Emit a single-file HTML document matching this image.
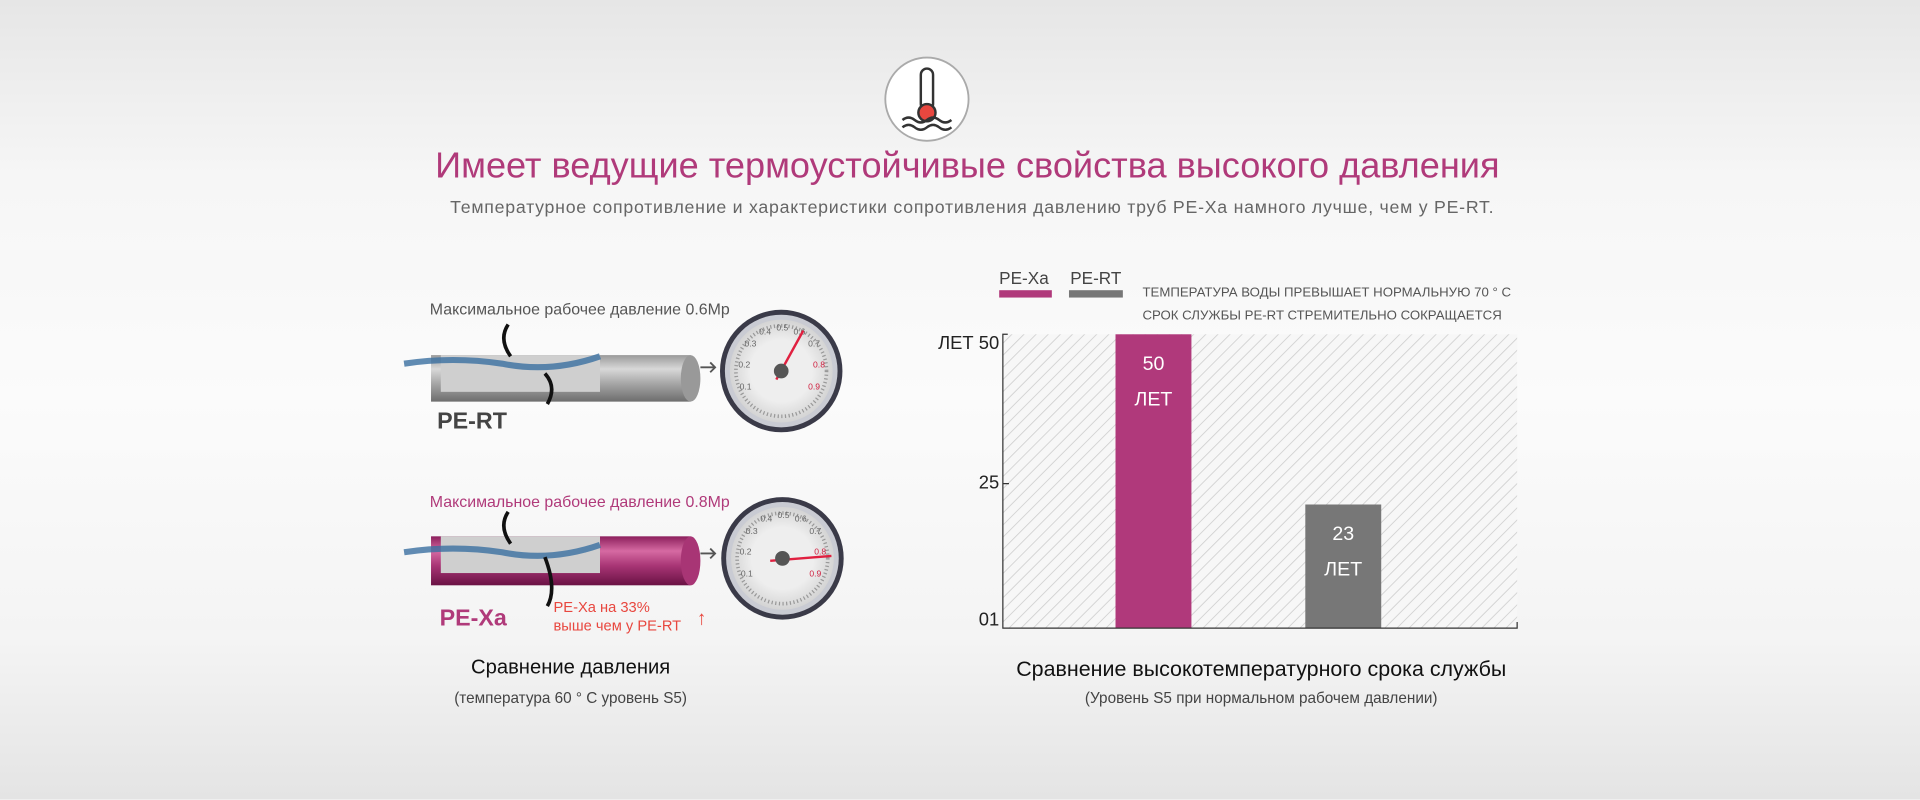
<!DOCTYPE html>
<html><head><meta charset="utf-8"><style>
html,body{margin:0;padding:0;width:1920px;height:800px;overflow:hidden}
#w{position:absolute;left:0;top:0;width:1568px;height:653px;transform:scale(1.22449);transform-origin:0 0;
background:linear-gradient(#e6e6e6 0%,#f6f6f6 22%,#fbfbfb 50%,#f4f4f4 80%,#e4e4e4 100%);
font-family:"Liberation Sans","Noto Sans CJK SC",sans-serif}
.t{position:absolute;white-space:nowrap}
</style></head><body><div id="w">
<svg width="1568" height="653" style="position:absolute;left:0;top:0">
<defs>
<pattern id="h" width="7" height="7" patternUnits="userSpaceOnUse" patternTransform="rotate(45)">
<rect width="7" height="7" fill="#f7f7f7"/><line x1="0" y1="0" x2="0" y2="7" stroke="#d0d0d0" stroke-width="1.4"/></pattern>
<linearGradient id="gp" x1="0" y1="0" x2="0" y2="1"><stop offset="0" stop-color="#9a9a9a"/><stop offset=".3" stop-color="#d8d8d8"/><stop offset=".6" stop-color="#a8a8a8"/><stop offset="1" stop-color="#6d6d6d"/></linearGradient>
<linearGradient id="mp" x1="0" y1="0" x2="0" y2="1"><stop offset="0" stop-color="#8c1f5c"/><stop offset=".3" stop-color="#d66aa2"/><stop offset=".6" stop-color="#a83575"/><stop offset="1" stop-color="#6a1244"/></linearGradient>
<radialGradient id="gf"><stop offset=".6" stop-color="#eeeeee"/><stop offset="1" stop-color="#d4d4d4"/></radialGradient>
</defs>
<circle cx="757" cy="81" r="34" fill="#fff" stroke="#aaa" stroke-width="1.5"/>
<rect x="752" y="56" width="10" height="34" rx="5" fill="none" stroke="#333" stroke-width="2"/>
<circle cx="757" cy="92" r="7" fill="#e8473f" stroke="#333" stroke-width="2"/>
<path d="M737 98 q5-4 10 0 t10 0 t10 0 t10 0 M737 104 q5-4 10 0 t10 0 t10 0 t10 0" fill="none" stroke="#333" stroke-width="2"/>
<g>
<rect x="352" y="290" width="212" height="38" fill="url(#gp)"/><ellipse cx="564" cy="309" rx="8" ry="19" fill="#999"/>
<rect x="360" y="290" width="130" height="30" fill="#cfcfcf"/>
<path d="M330 297 q40-6 80 0 q40 8 80-6" stroke="#3a6fa0" stroke-width="5" fill="none" opacity=".8"/>
<path d="M572 300 h12 m-4-4 l4 4 -4 4" stroke="#555" stroke-width="1.5" fill="none"/>
<path d="M415 265 q-8 12 2 26 M447 330 q8-14 -2 -25" stroke="#111" stroke-width="3" fill="none"/>
</g>
<g>
<rect x="352" y="438" width="212" height="40" fill="url(#mp)"/><ellipse cx="564" cy="458" rx="8" ry="20" fill="#a83575"/>
<rect x="360" y="438" width="130" height="30" fill="#cfcfcf"/>
<path d="M330 451 q40-6 80 0 q40 8 80-6" stroke="#3a6fa0" stroke-width="5" fill="none" opacity=".8"/>
<path d="M572 452 h12 m-4-4 l4 4 -4 4" stroke="#555" stroke-width="1.5" fill="none"/>
<path d="M415 418 q-8 12 2 26 M447 495 q8-14 -2 -40" stroke="#111" stroke-width="3" fill="none"/>
</g>
<g font-size="7" fill="#666" font-family="Liberation Sans">
<circle cx="638" cy="303" r="50" fill="#3a3a48"/><circle cx="638" cy="303" r="46" fill="#c9cbd3"/><circle cx="638" cy="303" r="42" fill="url(#gf)"/>
<circle cx="638" cy="303" r="37" fill="none" stroke="#999" stroke-width="3" stroke-dasharray="1 2"/>
<text x="604" y="318">0.1</text><text x="603" y="300">0.2</text><text x="608" y="283">0.3</text><text x="620" y="273">0.4</text><text x="634" y="270">0.5</text><text x="648" y="273">0.6</text><text x="660" y="283">0.7</text><text x="664" y="300" fill="#d02040">0.8</text><text x="660" y="318" fill="#d02040">0.9</text>
<line x1="634" y1="310" x2="656" y2="270" stroke="#e02040" stroke-width="2"/><circle cx="638" cy="303" r="6" fill="#555"/></g>
<g font-size="7" fill="#666" font-family="Liberation Sans">
<circle cx="639" cy="456" r="50" fill="#3a3a48"/><circle cx="639" cy="456" r="46" fill="#c9cbd3"/><circle cx="639" cy="456" r="42" fill="url(#gf)"/>
<circle cx="639" cy="456" r="37" fill="none" stroke="#999" stroke-width="3" stroke-dasharray="1 2"/>
<text x="605" y="471">0.1</text><text x="604" y="453">0.2</text><text x="609" y="436">0.3</text><text x="621" y="426">0.4</text><text x="635" y="423">0.5</text><text x="649" y="426">0.6</text><text x="661" y="436">0.7</text><text x="665" y="453" fill="#d02040">0.8</text><text x="661" y="471" fill="#d02040">0.9</text>
<line x1="629" y1="458" x2="679" y2="454" stroke="#e02040" stroke-width="2"/><circle cx="639" cy="456" r="6" fill="#555"/></g>
<rect x="819" y="273" width="420" height="240" fill="url(#h)"/>
<rect x="911" y="273" width="62" height="240" fill="#b0397b"/>
<rect x="1066" y="412" width="62" height="101" fill="#777777"/>
<path d="M823 273 h-4 v240 h420 v-5 M819 395 h5" stroke="#333" stroke-width="1" fill="none"/>
<rect x="816" y="237" width="43" height="6" fill="#b0397b"/>
<rect x="873" y="237" width="44" height="6" fill="#777"/>
</svg>
<div class="t" style="left:0;width:1580px;text-align:center;top:119px;font-size:29.5px;color:#b03a7a">Имеет ведущие термоустойчивые свойства высокого давления</div>
<div class="t" style="left:0;width:1588px;text-align:center;top:162px;font-size:14.5px;color:#666;letter-spacing:.6px">Температурное сопротивление и характеристики сопротивления давлению труб PE-Xa намного лучше, чем у PE-RT.</div>
<div class="t" style="left:351px;top:245px;font-size:13px;color:#555">Максимальное рабочее давление 0.6Mp</div>
<div class="t" style="left:357px;top:334px;font-size:19px;font-weight:bold;color:#444">PE-RT</div>
<div class="t" style="left:351px;top:402px;font-size:13px;color:#b03a7a">Максимальное рабочее давление 0.8Mp</div>
<div class="t" style="left:359px;top:495px;font-size:19px;font-weight:bold;color:#b03a7a">PE-Xa</div>
<div class="t" style="left:452px;top:489px;font-size:12px;line-height:15px;color:#e8473f">PE-Xa на 33%<br>выше чем у PE-RT</div>
<div class="t" style="left:569px;top:497px;font-size:16px;color:#e8473f">↑</div>
<div class="t" style="left:366px;width:200px;text-align:center;top:536px;font-size:16.5px;color:#111">Сравнение давления</div>
<div class="t" style="left:346px;width:240px;text-align:center;top:563px;font-size:12.5px;color:#444">(температура 60 ° C уровень S5)</div>
<div class="t" style="left:816px;top:219px;font-size:14px;color:#444">PE-Xa</div>
<div class="t" style="left:874px;top:219px;font-size:14px;color:#444">PE-RT</div>
<div class="t" style="left:933px;top:233px;font-size:10.8px;color:#555">ТЕМПЕРАТУРА ВОДЫ ПРЕВЫШАЕТ НОРМАЛЬНУЮ 70 ° C</div>
<div class="t" style="left:933px;top:252px;font-size:10.8px;color:#555">СРОК СЛУЖБЫ PE-RT СТРЕМИТЕЛЬНО СОКРАЩАЕТСЯ</div>
<div class="t" style="left:740px;width:76px;text-align:right;top:272px;font-size:15px;color:#222">ЛЕТ 50</div>
<div class="t" style="left:740px;width:76px;text-align:right;top:386px;font-size:15px;color:#222">25</div>
<div class="t" style="left:740px;width:76px;text-align:right;top:498px;font-size:15px;color:#222">01</div>
<div class="t" style="left:911px;width:62px;text-align:center;top:283px;font-size:16px;line-height:29px;color:#fff">50<br>ЛЕТ</div>
<div class="t" style="left:1066px;width:62px;text-align:center;top:422px;font-size:16px;line-height:29px;color:#fff">23<br>ЛЕТ</div>
<div class="t" style="left:780px;width:500px;text-align:center;top:536px;font-size:17.5px;color:#111">Сравнение высокотемпературного срока службы</div>
<div class="t" style="left:830px;width:400px;text-align:center;top:563px;font-size:12.5px;color:#444">(Уровень S5 при нормальном рабочем давлении)</div>
</div></body></html>
